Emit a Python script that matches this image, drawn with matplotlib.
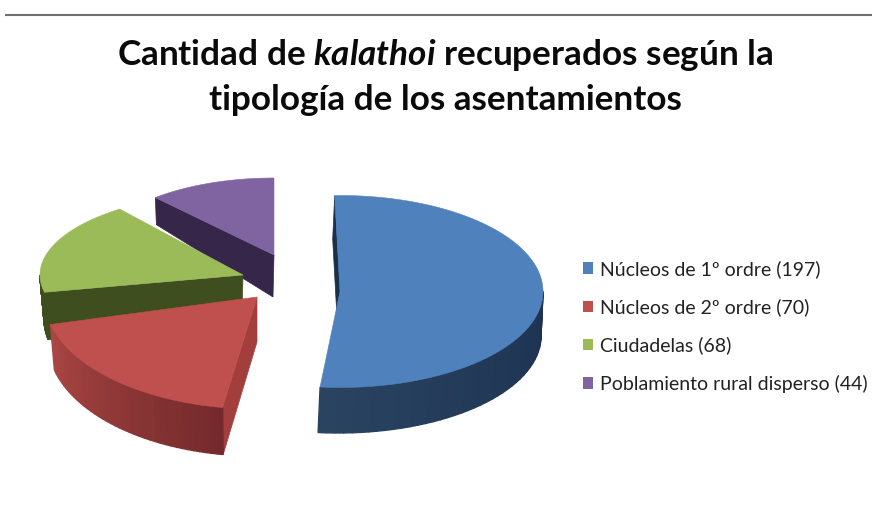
import numpy as np
import matplotlib
matplotlib.use("Agg")
import matplotlib.pyplot as plt
from matplotlib.patches import Patch

plt.rcParams["font.family"] = ["Lato", "DejaVu Sans"]
plt.rcParams["mathtext.fontset"] = "custom"
plt.rcParams["mathtext.bfit"] = "Lato:italic:bold"

categories = ["Núcleos de 1º ordre", "Núcleos de 2º ordre", "Ciudadelas", "Poblamiento rural disperso"]
values = [197, 70, 68, 44]
colors = ["#4F81BD", "#C0504D", "#9BBB59", "#8064A2"]

# layout of each exploded slice, in pixels of the 872x520 canvas
# start angle is clockwise from north, top/bottom = (cx, cy, rx, ry) of the two ellipses
# wall = colours of the side at the clockwise start and end of the slice
layout = {
    "Núcleos de 1º ordre": dict(start=-1.5, top=(340, 291.5, 203, 96), bottom=(338, 336, 203, 97),
                                wall=("#1C3250", "#294361"), face="#1A3048"),
    "Núcleos de 2º ordre": dict(start=189.3, top=(257, 297, 213, 112), bottom=(257, 342, 209, 114),
                                wall=("#742A2C", "#AA4643"), face="#A23F3C"),
    "Ciudadelas": dict(start=258.0, top=(243, 275, 203, 83), bottom=(242, 318, 198, 105),
                       wall=("#3F4E1E", "#3F4E1E"), face="#3F4E1E"),
    "Poblamiento rural disperso": dict(start=318.2, top=(274, 255, 178, 77), bottom=(273, 297, 175, 97),
                                       wall=("#35264A", "#35264A"), face="#35264A"),
}
draw_order = ["Núcleos de 1º ordre", "Poblamiento rural disperso", "Ciudadelas", "Núcleos de 2º ordre"]


def ell(params, t):
    cx, cy, rx, ry = params
    t = np.radians(t)
    return cx + rx * np.sin(t), cy - ry * np.cos(t)


def mix(c1, c2, f):
    a = np.array(matplotlib.colors.to_rgb(c1))
    b = np.array(matplotlib.colors.to_rgb(c2))
    return tuple(a + (b - a) * f)


fig = plt.figure(figsize=(8.72, 5.2), dpi=100)
ax = fig.add_axes([0, 0, 1, 1])
ax.set_xlim(0, 872)
ax.set_ylim(520, 0)
ax.axis("off")

total = sum(values)
for name in draw_order:
    i_cat = categories.index(name)
    p = layout[name]
    t0 = p["start"]
    t1 = t0 + values[i_cat] / total * 360
    top, bot = p["top"], p["bottom"]

    # cut face
    xs, ys = ell(top, t0)
    xe, ye = ell(bot, t0)
    ax.fill([top[0], xs, xe, bot[0]], [top[1], ys, ye, bot[1]], color=p["face"], lw=0.5)

    # outer wall, only the part that looks to the front
    w0, w1 = max(t0, 90), min(t1, 270)
    if w1 > w0:
        edges = np.linspace(w0, w1, 41)
        for i in range(40):
            xa, ya = ell(top, edges[i])
            xc, yc = ell(top, edges[i + 1])
            xd, yd = ell(bot, edges[i + 1])
            xf, yf = ell(bot, edges[i])
            ax.fill([xa, xc, xd, xf], [ya, yc, yd, yf], color=mix(p["wall"][0], p["wall"][1], i / 39), lw=1.0)

    # top surface
    arc = np.linspace(t0, t1, 160)
    xt, yt = ell(top, arc)
    ax.fill(np.r_[top[0], xt], np.r_[top[1], yt], color=colors[i_cat], lw=0.4)

# rule on top of the slide
ax.plot([5, 872], [15, 15], color="#6E6E6E", lw=1.5, solid_capstyle="butt")

fig.text(445 / 872, 1 - 55 / 520, r"Cantidad de $\mathbfit{kalathoi}$ recuperados según la",
         ha="center", va="center", fontsize=25.3, fontweight="bold", color="#0A0A0A")
fig.text(445 / 872, 1 - 100 / 520, "tipología de los asentamientos",
         ha="center", va="center", fontsize=25.3, fontweight="bold", color="#0A0A0A")

handles = [Patch(facecolor=c, edgecolor="none") for c in colors]
labels = [f"{c} ({v})" for c, v in zip(categories, values)]
ax.legend(handles, labels, loc="center left", bbox_to_anchor=(583 / 872, 1 - 326.5 / 520),
          bbox_transform=fig.transFigure, frameon=False, fontsize=14, labelspacing=1.05,
          handlelength=0.52, handleheight=0.52, handletextpad=0.33, labelcolor="#222222",
          borderpad=0, borderaxespad=0)

fig.savefig("out.png", dpi=100)
